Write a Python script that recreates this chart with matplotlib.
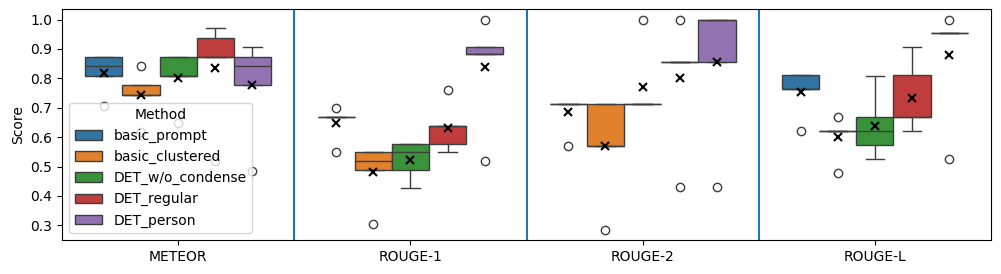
import matplotlib
matplotlib.use("Agg")
import matplotlib.pyplot as plt
import seaborn as sns
import pandas as pd

metrics = ["METEOR", "ROUGE-1", "ROUGE-2", "ROUGE-L"]
methods = ["basic_prompt", "basic_clustered", "DET_w/o_condense", "DET_regular", "DET_person"]

# five sample scores per (metric, method)
meteor = {
    "basic_prompt":     [0.706, 0.807, 0.841, 0.872, 0.872],
    "basic_clustered":  [0.617, 0.743, 0.743, 0.776, 0.841],
    "DET_w/o_condense": [0.649, 0.807, 0.807, 0.872, 0.872],
    "DET_regular":      [0.518, 0.872, 0.872, 0.937, 0.971],
    "DET_person":       [0.486, 0.777, 0.841, 0.872, 0.906],
}
rouge1 = {
    "basic_prompt":     [0.549, 0.667, 0.667, 0.667, 0.699],
    "basic_clustered":  [0.305, 0.488, 0.519, 0.549, 0.549],
    "DET_w/o_condense": [0.427, 0.488, 0.549, 0.576, 0.576],
    "DET_regular":      [0.549, 0.576, 0.638, 0.638, 0.760],
    "DET_person":       [0.519, 0.882, 0.882, 0.908, 1.000],
}
rouge2 = {
    "basic_prompt":     [0.571, 0.714, 0.714, 0.714, 0.714],
    "basic_clustered":  [0.286, 0.571, 0.571, 0.714, 0.714],
    "DET_w/o_condense": [0.714, 0.714, 0.714, 0.714, 1.000],
    "DET_regular":      [0.429, 0.857, 0.857, 0.857, 1.000],
    "DET_person":       [0.429, 0.857, 1.000, 1.000, 1.000],
}
rougel = {
    "basic_prompt":     [0.621, 0.763, 0.763, 0.810, 0.810],
    "basic_clustered":  [0.478, 0.621, 0.621, 0.621, 0.668],
    "DET_w/o_condense": [0.525, 0.573, 0.621, 0.668, 0.808],
    "DET_regular":      [0.621, 0.668, 0.668, 0.810, 0.906],
    "DET_person":       [0.525, 0.955, 0.955, 0.955, 1.000],
}
all_scores = [meteor, rouge1, rouge2, rougel]

rows = []
for metric, d in zip(metrics, all_scores):
    for m in methods:
        for v in d[m]:
            rows.append({"Metric": metric, "Method": m, "Score": v})
df = pd.DataFrame(rows)

fig, ax = plt.subplots(figsize=(10.01, 2.74), dpi=100)
fig.subplots_adjust(left=0.062, right=0.990, bottom=0.124, top=0.967)

sns.boxplot(data=df, x="Metric", y="Score", hue="Method", order=metrics,
            hue_order=methods, palette="tab10", showmeans=True,
            meanprops={"marker": "x", "markeredgecolor": "black",
                       "markerfacecolor": "black", "markersize": 6,
                       "markeredgewidth": 1.5},
            ax=ax)

for xv in [0.5, 1.5, 2.5]:
    ax.axvline(xv, color="#1f77b4", linewidth=1.5)

ax.set_xlabel("")
ax.set_ylabel("Score")
ax.set_yticks([0.3, 0.4, 0.5, 0.6, 0.7, 0.8, 0.9, 1.0])
ax.set_xlim(-0.5, 3.5)
ax.legend(title="Method", loc="lower left")

fig.savefig("out.png", dpi=100)
